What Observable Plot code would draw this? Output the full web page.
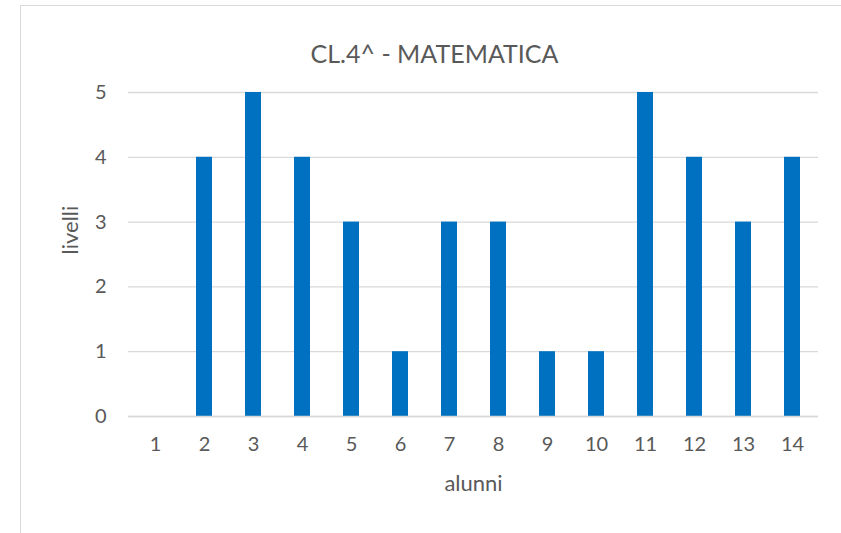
<!DOCTYPE html>
<html>
<head>
<meta charset="utf-8">
<script src="https://cdn.jsdelivr.net/npm/d3@7"></script>
<script src="https://cdn.jsdelivr.net/npm/@observablehq/plot@0.6"></script>
<style>
  html, body { margin: 0; padding: 0; background: #fff; }
  #wrap { position: relative; width: 841px; height: 533px; overflow: hidden; }
  #border { position: absolute; left: 20px; top: 5px; width: 900px; height: 600px; border: 1.5px solid #d9d9d9; box-sizing: border-box; }
  #chart { position: absolute; left: 0; top: 0; }
</style>
</head>
<body>
<div id="wrap">
  <div id="border"></div>
  <div id="chart"></div>
</div>
<script>
const titleText = "CL.4^ - MATEMATICA";
const xTitle = "alunni";
const yTitle = "livelli";
const alunni = [1, 2, 3, 4, 5, 6, 7, 8, 9, 10, 11, 12, 13, 14];
const livelli = [0, 4, 5, 4, 3, 1, 3, 3, 1, 1, 5, 4, 3, 4];
const yTicks = [0, 1, 2, 3, 4, 5];

const data = alunni.map((a, i) => ({alunno: a, livello: livelli[i]}));
const textColor = "#595959";
const font = "Lato, 'Open Sans', sans-serif";

const chart = Plot.plot({
  width: 841,
  height: 533,
  marginLeft: 128,
  marginRight: 23,
  marginTop: 92,
  marginBottom: 117,
  style: {fontFamily: font, background: "transparent", color: textColor},
  x: {domain: alunni, paddingInner: 0.675, paddingOuter: 0.3375, align: 0.5},
  y: {domain: [0, 5]},
  marks: [
    Plot.gridY(yTicks, {stroke: "#d9d9d9", strokeOpacity: 1, strokeWidth: 1.3}),
    Plot.barY(data, {x: "alunno", y: "livello", fill: "#0070C0"}),
    Plot.ruleY([0], {stroke: "#d9d9d9", strokeWidth: 1.5}),
    Plot.axisY(yTicks, {tickSize: 0, tickPadding: 22, fontSize: 20, fill: textColor, label: null, tickFormat: d3.format("d")}),
    Plot.axisX({tickSize: 0, tickPadding: 20, fontSize: 20, fill: textColor, label: null}),
    Plot.text([yTitle], {frameAnchor: "left", dx: -58, rotate: -90, fontSize: 22, fill: textColor}),
    Plot.text([xTitle], {frameAnchor: "bottom", dy: 74, fontSize: 22, fill: textColor}),
    Plot.text([titleText], {frameAnchor: "top", dx: -39, dy: -47, fontSize: 25, fill: textColor})
  ]
});
document.getElementById("chart").appendChild(chart);
</script>
</body>
</html>
